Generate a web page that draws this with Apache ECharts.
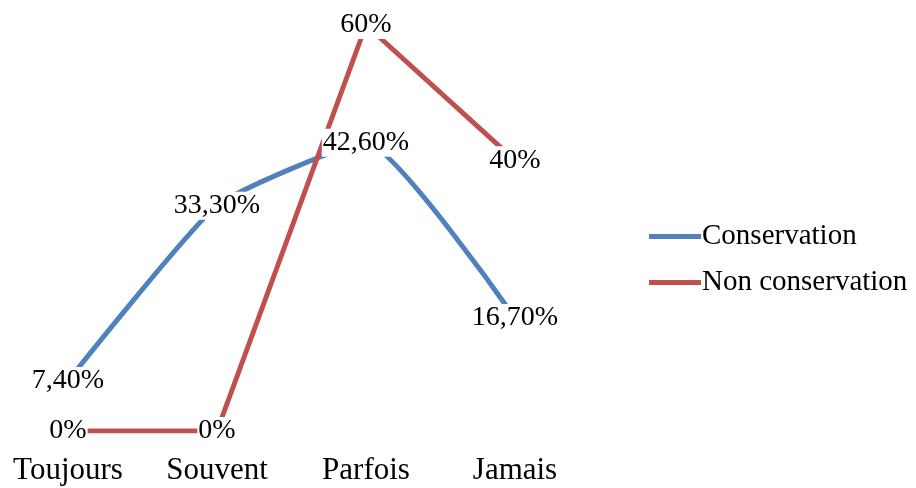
<!DOCTYPE html>
<html>
<head>
<meta charset="utf-8">
<script src="https://cdn.jsdelivr.net/npm/echarts@6/dist/echarts.min.js"></script>
<style>
  html, body { margin: 0; padding: 0; background: #fff; }
  #chart { width: 916px; height: 488px; }
</style>
</head>
<body>
<div id="chart"></div>
<script>
// Response categories
const categories = ['Toujours', 'Souvent', 'Parfois', 'Jamais'];
// Percentages per group
const conservation = [7.4, 33.3, 42.6, 16.7];
const nonConservation = [0, 0, 60, 40];
const seriesNames = ['Conservation', 'Non conservation'];

const serif = "'Liberation Serif', 'Times New Roman', serif";

// French-style percent label: 7.4 -> "7,40%", 0 -> "0%"
function pctLabel(v) {
  if (Number.isInteger(v)) return v + '%';
  return v.toFixed(2).replace('.', ',') + '%';
}

function labelCfg() {
  return {
    show: true,
    position: 'inside',
    fontFamily: serif,
    fontSize: 28,
    color: '#000',
    backgroundColor: '#fff',
    padding: [0, 1],
    formatter: p => pctLabel(p.value)
  };
}

const chart = echarts.init(document.getElementById('chart'), null, { renderer: 'canvas' });
chart.setOption({
  animation: false,
  backgroundColor: '#fff',
  grid: { left: 68, right: 401, top: 25, bottom: 57, containLabel: false },
  legend: {
    orient: 'vertical',
    left: 644,
    top: 217,
    itemWidth: 52,
    itemHeight: 5,
    itemGap: 17,
    icon: 'rect',
    textStyle: { fontFamily: serif, fontSize: 29, color: '#000', padding: [0, 0, 0, -4] },
    data: seriesNames
  },
  xAxis: {
    type: 'category',
    data: categories,
    boundaryGap: false,
    axisLine: { show: false },
    axisTick: { show: false },
    splitLine: { show: false },
    axisLabel: { fontFamily: serif, fontSize: 31, color: '#000', margin: 24 }
  },
  yAxis: {
    type: 'value',
    min: 0,
    max: 60,
    show: false,
    splitLine: { show: false }
  },
  series: [
    {
      name: seriesNames[0],
      type: 'line',
      data: conservation,
      smooth: 0.15,
      symbol: 'circle',
      symbolSize: 1,
      lineStyle: { color: '#4F81BD', width: 5 },
      itemStyle: { color: '#4F81BD' },
      label: labelCfg()
    },
    {
      name: seriesNames[1],
      type: 'line',
      data: nonConservation,
      symbol: 'circle',
      symbolSize: 1,
      lineStyle: { color: '#C0504D', width: 5 },
      itemStyle: { color: '#C0504D' },
      label: labelCfg()
    }
  ]
});
</script>
</body>
</html>
